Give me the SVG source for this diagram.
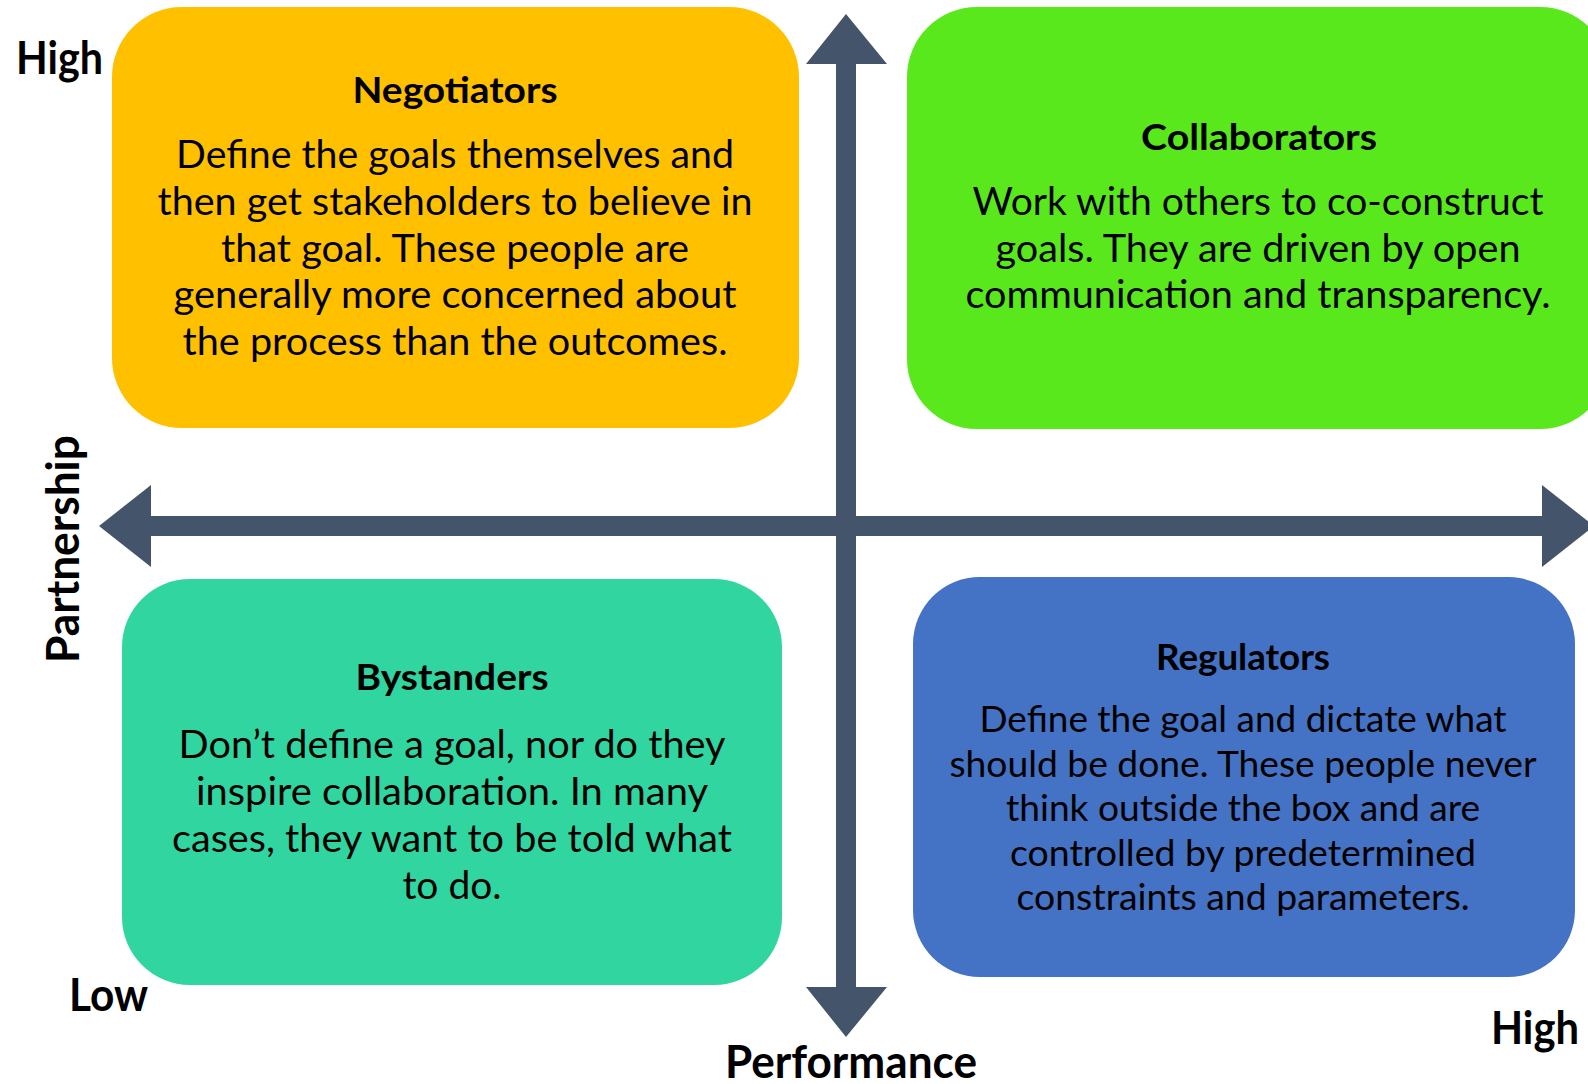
<svg xmlns="http://www.w3.org/2000/svg" width="1588" height="1084" viewBox="0 0 1588 1084">
<style>
.body{font-family:Lato,"Open Sans","Liberation Sans",sans-serif;font-size:39px;fill:#000;text-anchor:middle}
.reg{font-size:37px}
.title{font-family:Lato,"Open Sans","Liberation Sans",sans-serif;font-size:37px;font-weight:bold;fill:#000;text-anchor:middle}
.axis{font-family:Lato,"Open Sans","Liberation Sans",sans-serif;font-size:46px;font-weight:bold;fill:#000}
.arrow{fill:#44546A}
</style>
<rect width="1588" height="1084" fill="#fff"/>
<g id="negotiators">
<rect x="112" y="7" width="687" height="421" rx="70" ry="70" fill="#FFC000"/>
<text class="title" x="455" y="103" textLength="205" lengthAdjust="spacingAndGlyphs">Negotiators</text>
<text class="body" x="455" y="168" textLength="558" lengthAdjust="spacingAndGlyphs">Define the goals themselves and</text>
<text class="body" x="455" y="215" textLength="595" lengthAdjust="spacingAndGlyphs">then get stakeholders to believe in</text>
<text class="body" x="455" y="262" textLength="468" lengthAdjust="spacingAndGlyphs">that goal. These people are</text>
<text class="body" x="455" y="308" textLength="563" lengthAdjust="spacingAndGlyphs">generally more concerned about</text>
<text class="body" x="455" y="355" textLength="545" lengthAdjust="spacingAndGlyphs">the process than the outcomes.</text>
</g>
<g id="collaborators">
<rect x="907" y="7" width="703" height="422" rx="70" ry="70" fill="#58E81C"/>
<text class="title" x="1259" y="150" textLength="236" lengthAdjust="spacingAndGlyphs">Collaborators</text>
<text class="body" x="1258" y="215" textLength="571" lengthAdjust="spacingAndGlyphs">Work with others to co-construct</text>
<text class="body" x="1258" y="262" textLength="525" lengthAdjust="spacingAndGlyphs">goals. They are driven by open</text>
<text class="body" x="1258" y="308" textLength="585" lengthAdjust="spacingAndGlyphs">communication and transparency.</text>
</g>
<g id="bystanders">
<rect x="122" y="579" width="660" height="406" rx="68" ry="68" fill="#30D5A0"/>
<text class="title" x="452" y="690" textLength="193" lengthAdjust="spacingAndGlyphs">Bystanders</text>
<text class="body" x="452" y="758" textLength="547" lengthAdjust="spacingAndGlyphs">Don’t define a goal, nor do they</text>
<text class="body" x="452" y="805" textLength="512" lengthAdjust="spacingAndGlyphs">inspire collaboration. In many</text>
<text class="body" x="452" y="852" textLength="560" lengthAdjust="spacingAndGlyphs">cases, they want to be told what</text>
<text class="body" x="452" y="899" textLength="99" lengthAdjust="spacingAndGlyphs">to do.</text>
</g>
<g id="regulators">
<rect x="913" y="577" width="662" height="400" rx="67" ry="67" fill="#4472C4"/>
<text class="title" x="1243" y="670" textLength="174" lengthAdjust="spacingAndGlyphs">Regulators</text>
<text class="body reg" x="1243" y="732" textLength="527" lengthAdjust="spacingAndGlyphs">Define the goal and dictate what</text>
<text class="body reg" x="1243" y="777" textLength="587" lengthAdjust="spacingAndGlyphs">should be done. These people never</text>
<text class="body reg" x="1243" y="821" textLength="474" lengthAdjust="spacingAndGlyphs">think outside the box and are</text>
<text class="body reg" x="1243" y="866" textLength="466" lengthAdjust="spacingAndGlyphs">controlled by predetermined</text>
<text class="body reg" x="1243" y="910" textLength="453" lengthAdjust="spacingAndGlyphs">constraints and parameters.</text>
</g>
<g id="connectors">
<polygon class="arrow" points="99,526 151,485 151,516 1542,516 1542,485 1594,526 1542,567 1542,536 151,536 151,567"/>
<polygon class="arrow" points="846,14 887,64 856,64 856,987 887,987 846,1037 806,987 836,987 836,64 806,64"/>
</g>
<g id="labels">
<text class="axis" x="16" y="74" textLength="87" lengthAdjust="spacingAndGlyphs">High</text>
<text class="axis" x="69" y="1011" textLength="79" lengthAdjust="spacingAndGlyphs">Low</text>
<text class="axis" x="1491" y="1044" textLength="88" lengthAdjust="spacingAndGlyphs">High</text>
<text class="axis" x="851" y="1078" text-anchor="middle" textLength="252" lengthAdjust="spacingAndGlyphs">Performance</text>
<text class="axis" transform="translate(79,549) rotate(-90)" text-anchor="middle" textLength="228" lengthAdjust="spacingAndGlyphs">Partnership</text>
</g>
</svg>
